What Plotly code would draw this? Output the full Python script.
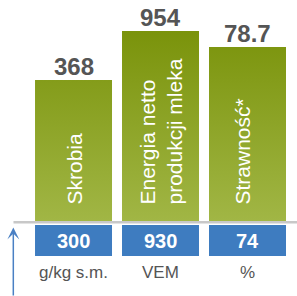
import plotly.graph_objects as go

# ---- data ----
categories = ["Skrobia", "Energia netto<br>produkcji mleka", "Strawność*"]
values = ["368", "954", "78.7"]
reference = ["300", "930", "74"]
units = ["g/kg s.m.", "VEM", "%"]
bar_heights = [141, 190, 174]  # illustrative (non-proportional) bar heights

FONT = "Arial, Liberation Sans, Helvetica, sans-serif"
GREY_TXT = "#555555"
BLUE = "#3e7cc0"
W = 0.885
BOX_TOP, BOX_BOTTOM = -4, -35

xs = list(range(len(categories)))
fig = go.Figure()

top = max(bar_heights)
for i, h in zip(xs, bar_heights):
    fig.add_trace(go.Scatter(
        x=[i - W / 2, i + W / 2, i + W / 2, i - W / 2, i - W / 2],
        y=[0, 0, h, h, 0],
        fill="toself", mode="lines",
        line=dict(width=0, color="rgba(0,0,0,0)"),
        fillgradient=dict(type="vertical",
                          colorscale=[[0, "#a1b645"], [1, "#7a930b"]],
                          start=0, stop=top),
        hoverinfo="skip", showlegend=False))

fig.add_trace(go.Bar(
    x=xs, y=[BOX_TOP - BOX_BOTTOM] * len(xs), base=[BOX_BOTTOM] * len(xs),
    width=W, marker=dict(color=BLUE, line=dict(width=0)),
    hoverinfo="skip", showlegend=False))

annotations = []
for i, h, v, c, r, u in zip(xs, bar_heights, values, categories, reference, units):
    annotations.append(dict(x=i, y=h + 13.5, text=f"<b>{v}</b>", showarrow=False,
                            xanchor="center", yanchor="middle",
                            font=dict(family=FONT, size=24, color=GREY_TXT)))
    annotations.append(dict(x=i, y=14, text=c, showarrow=False, textangle=-90,
                            xanchor="center", yanchor="bottom", align="left",
                            xshift=-6 if i == 2 else 0,
                            font=dict(family=FONT, size=21, color="white")))
    annotations.append(dict(x=i, y=(BOX_TOP + BOX_BOTTOM) / 2, text=f"<b>{r}</b>",
                            showarrow=False, xanchor="center", yanchor="middle",
                            font=dict(family=FONT, size=20, color="white")))
    annotations.append(dict(x=i, y=-51, text=u, showarrow=False,
                            xanchor="center", yanchor="middle",
                            font=dict(family=FONT, size=17, color=GREY_TXT)))

annotations.append(dict(x=-0.692, y=-6.5, ax=-0.692, ay=-76, axref="x", ayref="y",
                        xref="x", yref="y", text="", showarrow=True,
                        arrowhead=3, arrowwidth=1.5, arrowsize=1.33,
                        arrowcolor="#4a80c4"))

fig.update_layout(
    width=297, height=296,
    margin=dict(l=0, r=0, t=0, b=0),
    paper_bgcolor="white", plot_bgcolor="white",
    showlegend=False,
    xaxis=dict(range=[-0.845, 2.569], visible=False, fixedrange=True),
    yaxis=dict(range=[-75, 221], visible=False, fixedrange=True),
    shapes=[dict(type="line", xref="x", yref="y", x0=-0.69, x1=2.6,
                 y0=-1.25, y1=-1.25, layer="above",
                 line=dict(color="#c8c8c8", width=2.5))],
    annotations=annotations,
)

fig.write_html("out.html", config={"displayModeBar": False},
               post_script="document.body.style.margin='0';")
